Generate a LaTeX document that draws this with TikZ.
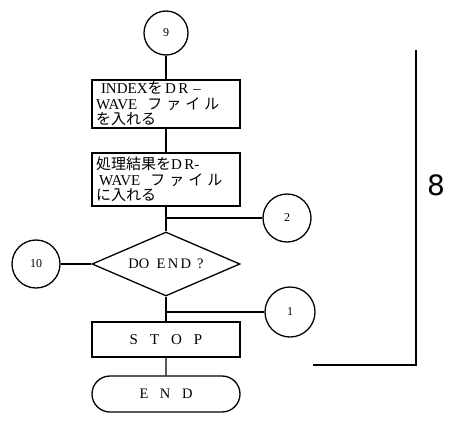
\documentclass[tikz,border=0pt]{standalone}
\usepackage{fontspec}
\setmainfont{Liberation Serif}
\newfontfamily\cjk{Noto Sans CJK JP}
\newfontfamily\eightfont{DejaVu Sans}
\usetikzlibrary{shapes.geometric,shapes.misc}
\tikzset{
  conn/.style={circle,draw,minimum size=48pt,inner sep=0pt,font=\fontsize{12}{12}\selectfont},
  proc/.style={rectangle,draw,minimum width=148pt,text width=140pt,inner xsep=4pt,inner ysep=0pt,align=left,font=\fontsize{15}{15.5}\selectfont},
  decision/.style={diamond,draw,aspect=2.3125,minimum width=148pt,minimum height=64pt,inner sep=0pt,font=\fontsize{14.5}{15}\selectfont},
  term/.style={rounded rectangle,draw,minimum width=148pt,minimum height=36pt,inner sep=0pt,font=\fontsize{14.5}{15}\selectfont},
  flow/.style={line width=1.3pt},
}
\begin{document}
\begin{tikzpicture}[x=1pt,y=-1pt,line width=1.3pt]
\useasboundingbox (0,0) rectangle (452,423);
\node[conn,minimum size=44pt] (c9) at (166,33) {9};
\node[proc,minimum height=48pt] (b1) at (166,104) {\hspace{5pt}INDEX{\cjk を}\,D\,R\ --\\WAVE\ \ {\cjk フ\hspace{4pt}ァ\hspace{4pt}イ\hspace{4pt}ル}\\{\cjk を入れる}};
\node[proc,minimum height=53pt] (b2) at (166,179.5) {{\cjk 処理結果を}D\,R-\\\hspace{3pt}WAVE\ \ {\cjk フ\hspace{4pt}ァ\hspace{4pt}イ\hspace{4pt}ル}\\{\cjk に入れる}};
\node[decision] (d) at (166,264) {DO\ \ E\,N\,D\,\ ?};
\node[conn] (c10) at (36,264) {10};
\node[conn] (c2) at (287,218) {2};
\node[conn,minimum size=50pt] (c1) at (290,312) {1};
\node[proc,minimum height=35pt,align=center,text width=] (stop) at (166,339.5) {S\hspace{0.8em}T\hspace{0.8em}O\hspace{0.8em}P};
\node[term] (end) at (166,394) {E\hspace{0.8em}N\hspace{0.8em}D};
\coordinate (j1) at (166,218);
\coordinate (j2) at (166,312);
\draw[flow] (c9) -- (b1);
\draw[flow] (b1) -- (b2);
\draw[flow] (b2) -- (d);
\draw[flow] (j1) -- (c2);
\draw[flow] (d.west) -- (c10);
\draw[flow] (d.south) -- (stop);
\draw[flow] (j2) -- (c1);
\draw[flow] (stop) -- (end);
\coordinate (br1) at (416,50);
\coordinate (br2) at (416,365);
\coordinate (br3) at (313,365);
\draw[line width=2pt] (br1) -- (br2) -- (br3);
\node[font=\eightfont\fontsize{28}{28}\selectfont] (eight) at (436,185) {8};
\end{tikzpicture}
\end{document}
